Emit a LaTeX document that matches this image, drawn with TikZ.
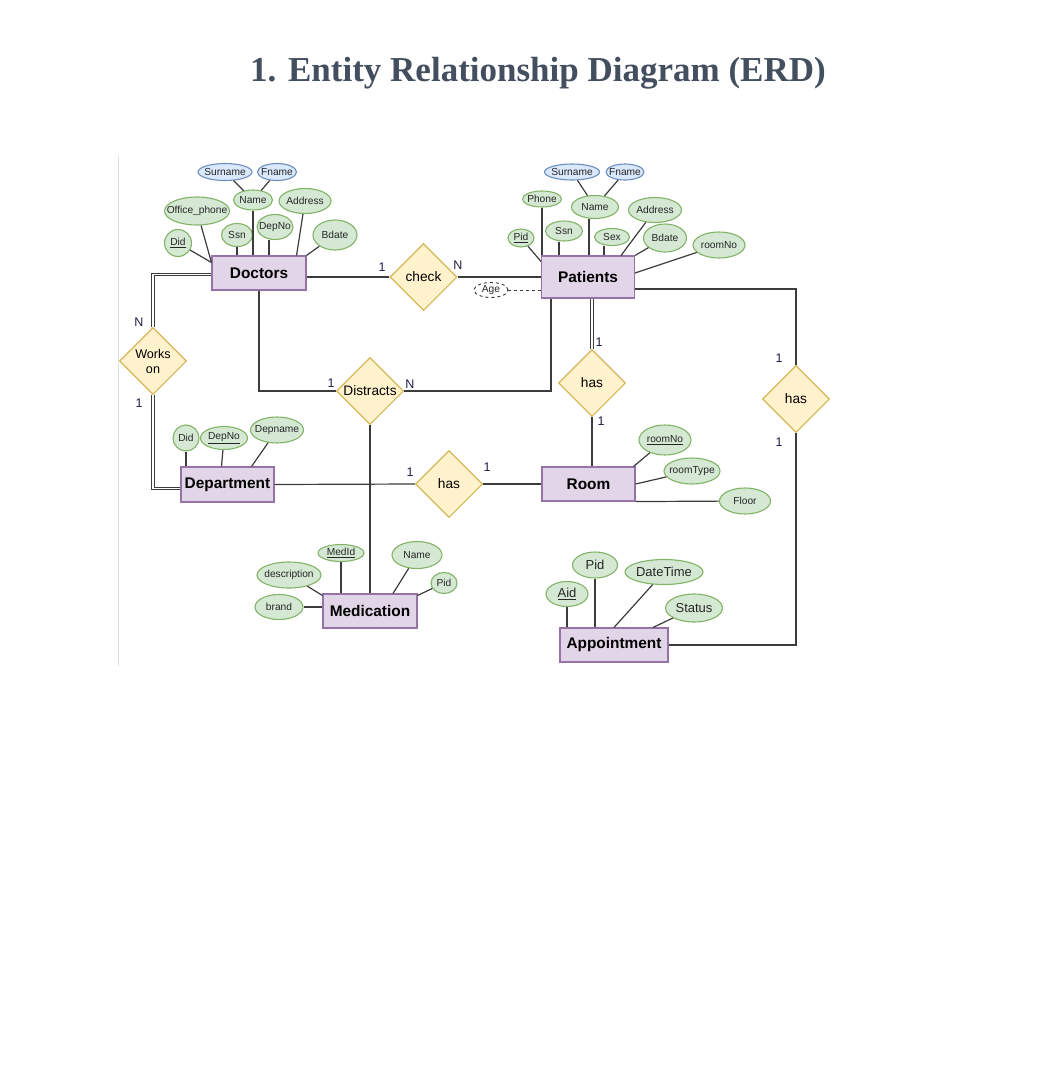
\documentclass[tikz,border=0pt]{standalone}
\usepackage{fontspec}
\usepackage{xcolor}
\usepackage{tikz}
\usetikzlibrary{shapes.geometric, arrows.meta, positioning}
\setmainfont{Liberation Sans}
\newfontfamily\titlefont{Liberation Serif}
\definecolor{entfill}{HTML}{E1D5E7}
\definecolor{entline}{HTML}{9673A6}
\definecolor{relfill}{HTML}{FFF2CC}
\definecolor{relline}{HTML}{D6B656}
\definecolor{attrfill}{HTML}{D5E8D4}
\definecolor{attrline}{HTML}{82B366}
\definecolor{namefill}{HTML}{DAE8FC}
\definecolor{nameline}{HTML}{6C8EBF}
\definecolor{linkcol}{HTML}{3C3C3C}
\definecolor{cardcol}{HTML}{1C1C48}
\definecolor{titlecol}{HTML}{434F5F}
\tikzstyle{entity} = [rectangle, draw=entline, fill=entfill, line width=1.1pt, minimum width=93, minimum height=34, font=\bfseries\fontsize{15.4}{18}\selectfont]
\tikzstyle{rel} = [diamond, draw=relline, fill=relfill, line width=1.1pt, minimum width=67, minimum height=67, inner sep=0pt, font=\fontsize{13.7}{15}\selectfont]
\tikzstyle{attr} = [ellipse, draw=attrline, fill=attrfill, line width=1.1pt, inner sep=0pt]
\tikzstyle{subattr} = [ellipse, draw=nameline, fill=namefill, line width=1.1pt, inner sep=0pt]
\tikzstyle{derived} = [ellipse, draw=black!80, fill=white, dashed, line width=0.9pt, inner sep=0pt]
\tikzstyle{card} = [inner sep=0pt, text=cardcol, font=\fontsize{12.5}{14}\selectfont]
\tikzstyle{link} = [linkcol, line width=1.2pt]
\tikzstyle{dbl} = [linkcol, line width=0.9pt, double, double distance=1.6pt]
\tikzstyle{big} = [font=\fontsize{13}{15}\selectfont]

\begin{document}
\begin{tikzpicture}[x=1pt, y=-1pt, every label/.style={font=\fontsize{10.2}{12}\selectfont, text=black!85}]
    \useasboundingbox (0,0) rectangle (1060,1068);

    % Title
    \node (title) at (538,73) {\titlefont\bfseries\fontsize{35}{40}\selectfont\color{titlecol}1. Entity Relationship Diagram (ERD)};
    \draw[black!12, line width=1pt] (118,156) -- (118,666);

    % Entities
    \node (doc) [entity, minimum width=94] at (259,273) {Doctors};
    \node (pat) [entity, minimum height=42] at (588,277) {Patients};
    \node (dept) [entity, minimum height=35] at (227.5,484.5) {Department};
    \node (room) [entity] at (588.5,484) {Room};
    \node (med) [entity, minimum width=94] at (370,611) {Medication};
    \node (app) [entity, minimum width=108] at (614,645) {Appointment};

    % Relationships
    \node (check) [rel] at (423.5,277) {check};
    \node (works) [rel, align=center, font=\fontsize{12.6}{15}\selectfont] at (153,361) {Works\\on};
    \node (dist) [rel] at (370,391) {Distracts};
    \node (phas) [rel] at (592,383) {has};
    \node (rhas) [rel] at (796,399) {has};
    \node (bhas) [rel] at (449,484) {has};

    % Doctors attributes
    \node (dsur) [subattr, minimum width=54, minimum height=17, label=center:Surname] at (225,172) {};
    \node (dfn) [subattr, minimum width=39, minimum height=17, label=center:Fname] at (277,172) {};
    \node (dname) [attr, minimum width=39, minimum height=20, label=center:Name] at (253,200) {};
    \node (dadd) [attr, minimum width=52, minimum height=25, label=center:Address] at (305,201) {};
    \node (doff) [attr, minimum width=65, minimum height=28, label=center:Office\_phone] at (197,211) {};
    \node (dssn) [attr, minimum width=31, minimum height=23, label=center:Ssn] at (237,235) {};
    \node (ddep) [attr, minimum width=36, minimum height=25, label=center:DepNo] at (275,227) {};
    \node (dbd) [attr, minimum width=44, minimum height=30, label=center:Bdate] at (335,235) {};
    \node (did) [attr, minimum width=27, minimum height=27, label=center:\underline{Did}] at (178,243) {};

    \draw[link] (dsur) -- (dname);
    \draw[link] (dfn) -- (dname);
    \draw[link] (dname) -- (dname |- doc.north);
    \draw[link] (doff) -- ([yshift=-7pt]doc.north west);
    \draw[link] (did) -- ([yshift=-7pt]doc.north west);
    \draw[link] (dssn) -- (dssn |- doc.north);
    \draw[link] ([xshift=-6pt]ddep.south) -- ([xshift=-6pt]ddep.south |- doc.north);
    \draw[link] (dadd) -- ([xshift=-10pt]doc.north east);
    \draw[link] (dbd) -- (doc.north east);

    % Patients attributes
    \node (psur) [subattr, minimum width=55, minimum height=16, label=center:Surname] at (572,172) {};
    \node (pfn) [subattr, minimum width=38, minimum height=16, label=center:Fname] at (625,172) {};
    \node (pphone) [attr, minimum width=39, minimum height=16, label=center:Phone] at (542,199) {};
    \node (pname) [attr, minimum width=47, minimum height=23, label=center:Name] at (595,207) {};
    \node (padd) [attr, minimum width=53, minimum height=25, label=center:Address] at (655,210) {};
    \node (pssn) [attr, minimum width=37, minimum height=20, label=center:Ssn] at (564,231) {};
    \node (psex) [attr, minimum width=35, minimum height=17, label=center:Sex] at (612,237) {};
    \node (pbd) [attr, minimum width=43, minimum height=28, label=center:Bdate] at (665,238) {};
    \node (proom) [attr, minimum width=52, minimum height=26, label=center:roomNo] at (719,245) {};
    \node (ppid) [attr, minimum width=26, minimum height=18, label=center:\underline{Pid}] at (521,238) {};
    \node (page) [derived, minimum width=34, minimum height=15, label=center:Age] at (491,290) {};

    \draw[link] (psur) -- (pname);
    \draw[link] (pfn) -- (pname);
    \draw[link] (pphone) -- (pphone |- pat.north);
    \draw[link] ([xshift=-6pt]pname.south) -- ([xshift=-6pt]pname.south |- pat.north);
    \draw[link] ([xshift=-5pt]pssn.south) -- ([xshift=-5pt]pssn.south |- pat.north);
    \draw[link] ([xshift=-8pt]psex.south) -- ([xshift=-8pt]psex.south |- pat.north);
    \draw[link] (padd) -- ([xshift=-14pt]pat.north east);
    \draw[link] (pbd) -- (pat.north east);
    \draw[link] (proom) -- ([yshift=4pt]pat.east);
    \draw[link] (ppid) -- ([yshift=-6pt]pat.north west);
    \draw[linkcol, line width=0.9pt, dashed] (page) -- (page -| pat.west);

    % Department attributes
    \node (ddid) [attr, minimum width=26, minimum height=26, label=center:Did] at (186,438) {};
    \node (ddno) [attr, minimum width=47, minimum height=23, label=center:\underline{DepNo}] at (224,438) {};
    \node (ddname) [attr, minimum width=53, minimum height=26, label=center:Depname] at (277,430) {};
    \draw[link] (ddid) -- (ddid |- dept.north);
    \draw[link] (ddno) -- ([xshift=-6pt]dept.north);
    \draw[link] (ddname) -- ([xshift=24pt]dept.north);

    % Room attributes
    \node (rno) [attr, minimum width=52, minimum height=30, label=center:\underline{roomNo}] at (665,440) {};
    \node (rtype) [attr, minimum width=56, minimum height=26, label=center:roomType] at (692,471) {};
    \node (rfloor) [attr, minimum width=51, minimum height=26, label=center:Floor] at (745,501) {};
    \draw[link] (rno) -- ([xshift=-2pt]room.north east);
    \draw[link] (rtype) -- (room.east);
    \draw[link] (room.south east) -- (rfloor);

    % Medication attributes
    \node (mid) [attr, minimum width=46, minimum height=17, label=center:\underline{MedId}] at (341,553) {};
    \node (mname) [attr, minimum width=50, minimum height=27, label=center:Name] at (417,555) {};
    \node (mdesc) [attr, minimum width=64, minimum height=26, label=center:description] at (289,575) {};
    \node (mpid) [attr, minimum width=26, minimum height=21, label=center:Pid] at (444,583) {};
    \node (mbrand) [attr, minimum width=48, minimum height=25, label=center:brand] at (279,607) {};
    \draw[link] (mid) -- (mid |- med.north);
    \draw[link] (mname) -- ([xshift=23pt]med.north);
    \draw[link] (mdesc) -- ([yshift=-2pt]med.north west);
    \draw[link] (mpid) -- ([yshift=-2pt]med.north east);
    \draw[link] (mbrand) -- (mbrand -| med.west);

    % Appointment attributes
    \node (aaid) [attr, minimum width=42, minimum height=25, label={[big]center:\underline{Aid}}] at (567,594) {};
    \node (apid) [attr, minimum width=45, minimum height=26, label={[big]center:Pid}] at (595,565) {};
    \node (adt) [attr, minimum width=78, minimum height=25, label={[big]center:DateTime}] at (664,572) {};
    \node (ast) [attr, minimum width=57, minimum height=28, label={[big]center:Status}] at (694,608) {};
    \draw[link] (aaid) -- (aaid |- app.north);
    \draw[link] (apid) -- (apid |- app.north);
    \draw[link] (adt) -- (app.north);
    \draw[link] (ast) -- ([xshift=39pt]app.north);

    % Connections
    \draw[link] (check.west) -- (check.west -| doc.east);
    \draw[link] (check.east) -- (pat.west);
    \draw[dbl] ([yshift=-1.5pt]doc.west) -| (works.north);
    \draw[dbl] (works.south) |- ([yshift=-4pt]dept.west);
    \draw[link] (doc.south) |- (dist.west);
    \draw[link] (dist.east) -| ([xshift=-37pt]pat.south);
    \draw[link] (dist.south) -- (med.north);
    \draw[dbl] (phas.north) -- (phas.north |- pat.south);
    \draw[link] (phas.south) -- (phas.south |- room.north);
    \draw[link] ([yshift=-12pt]pat.east) -| (rhas.north);
    \draw[link] (rhas.south) |- (app.east);
    \draw[link] (dept.east) -- (bhas.west);
    \draw[link] (bhas.east) -- (room.west);

    % Cardinalities
    \node (c1) [card] at (382,267) {1};
    \node (c2) [card] at (458,265) {N};
    \node (c3) [card] at (139,322) {N};
    \node (c4) [card] at (139,403) {1};
    \node (c5) [card] at (331,383) {1};
    \node (c6) [card] at (410,384) {N};
    \node (c7) [card] at (599,342) {1};
    \node (c8) [card] at (601,421) {1};
    \node (c9) [card] at (779,358) {1};
    \node (c10) [card] at (779,442) {1};
    \node (c11) [card] at (410,472) {1};
    \node (c12) [card] at (487,467) {1};

\end{tikzpicture}
\end{document}
